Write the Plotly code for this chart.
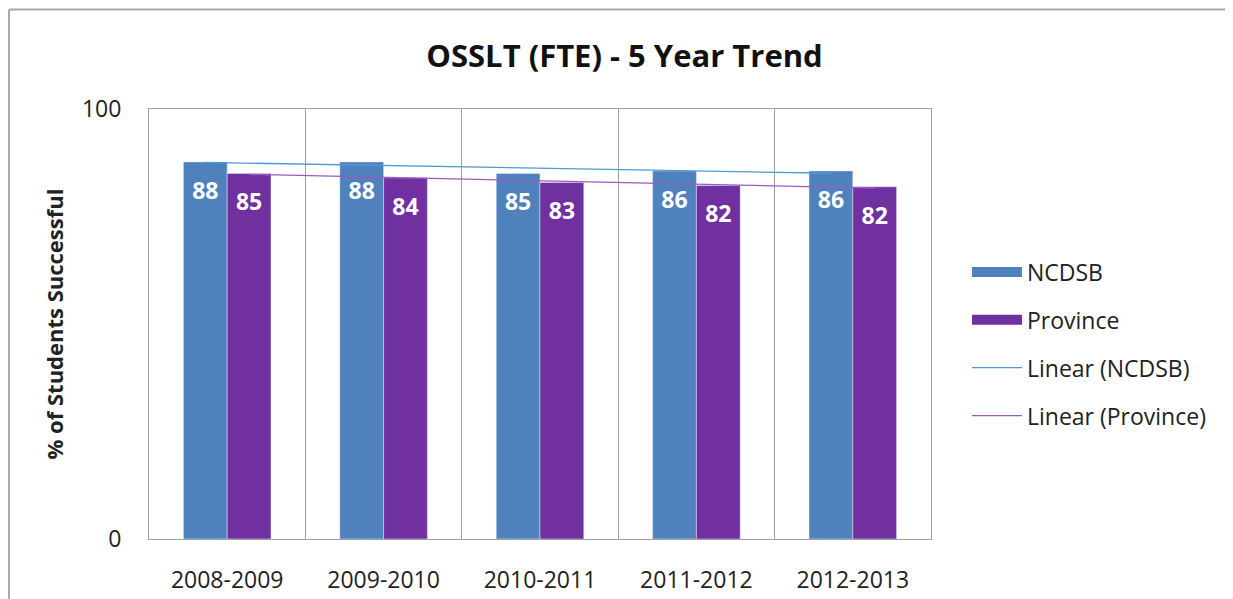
import numpy as np
import plotly.graph_objects as go

years = ["2008-2009", "2009-2010", "2010-2011", "2011-2012", "2012-2013"]
ncdsb = [87.7, 87.7, 85.0, 85.6, 85.6]
province = [85.0, 84.0, 82.9, 82.2, 81.9]

BLUE = "#4F81BD"
PURPLE = "#7030A0"
FONT = "'Open Sans', sans-serif"


def trend(values):
    x = np.arange(len(values))
    slope, intercept = np.polyfit(x, values, 1)
    return list(slope * x + intercept)


fig = go.Figure()

fig.add_trace(go.Bar(
    x=years, y=ncdsb, name="NCDSB", marker_color=BLUE,
    offsetgroup="a", showlegend=False, hoverinfo="y"
))
fig.add_trace(go.Bar(
    x=years, y=province, name="Province", marker_color=PURPLE,
    offsetgroup="b", showlegend=False, hoverinfo="y"
))

# legend entries for the bars (wide blocks like the original)
for name, col, grp in [("NCDSB", BLUE, "g1"), ("Province", PURPLE, "g2")]:
    fig.add_trace(go.Scatter(
        x=[None], y=[None], mode="lines", name=name, legendgroup=grp,
        line=dict(color=col, width=15)
    ))

fig.add_trace(go.Scatter(
    x=years, y=trend(ncdsb), name="Linear (NCDSB)", mode="lines",
    line=dict(color="#4A9BD6", width=1.3), offsetgroup="a", legendgroup="g3"
))
fig.add_trace(go.Scatter(
    x=years, y=trend(province), name="Linear (Province)", mode="lines",
    line=dict(color="#9A5BC0", width=1.3), offsetgroup="b", legendgroup="g4"
))

# data labels just inside the bar tops
for vals, grp in [(ncdsb, "a"), (province, "b")]:
    fig.add_trace(go.Scatter(
        x=years, y=[v - 7.2 for v in vals], mode="text",
        text=[f"{v:.0f}" for v in vals], offsetgroup=grp,
        textfont=dict(color="white", size=23, family=FONT, weight="bold"),
        showlegend=False, hoverinfo="skip"
    ))

fig.update_layout(
    width=1233, height=599,
    barmode="group", scattermode="group",
    bargap=0.44, bargroupgap=0,
    paper_bgcolor="white", plot_bgcolor="white",
    margin=dict(l=141, r=310, t=101, b=66),
    font=dict(family=FONT, size=22, color="#222"),
    title=dict(
        text="<b>OSSLT (FTE) - 5 Year Trend</b>",
        x=0.5, xanchor="center", y=0.92, yanchor="middle",
        font=dict(size=31, color="#111")
    ),
    xaxis=dict(
        tickson="boundaries", showgrid=True, gridcolor="#A0A0A0", gridwidth=1,
        showline=True, linecolor="#A0A0A0", mirror=True,
        ticks="", tickfont=dict(size=23), ticklabelstandoff=20
    ),
    yaxis=dict(
        range=[0, 100], tickvals=[0, 100], showgrid=False, zeroline=False,
        showline=True, linecolor="#A0A0A0", mirror=True,
        ticks="", tickfont=dict(size=23), ticklabelstandoff=22,
        title=dict(text="<b>% of Students Successful</b>",
                   font=dict(size=22), standoff=12)
    ),
    legend=dict(
        x=1.046, y=0.671, xanchor="left", yanchor="top",
        font=dict(size=23), tracegroupgap=15, itemwidth=50,
        bgcolor="rgba(0,0,0,0)"
    ),
    shapes=[
        dict(type="line", xref="paper", yref="paper",
             x0=-0.179, x1=1.5, y0=1.2315, y1=1.2315,
             line=dict(color="#A8A8A8", width=2)),
        dict(type="line", xref="paper", yref="paper",
             x0=-0.179, x1=-0.179, y0=1.2315, y1=-0.2,
             line=dict(color="#A8A8A8", width=2)),
    ],
)

fig.write_html("out.html")
